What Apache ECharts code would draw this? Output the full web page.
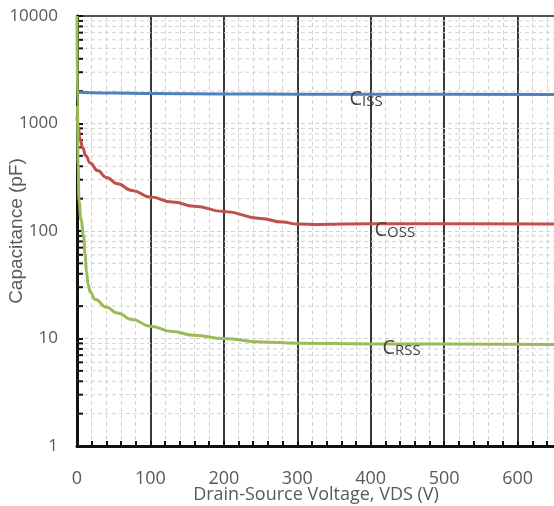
<!DOCTYPE html>
<html><head><meta charset="utf-8">
<script src="https://cdn.jsdelivr.net/npm/echarts@6/dist/echarts.min.js"></script>
<style>html,body{margin:0;padding:0;background:#fff}#c{width:554px;height:506px}</style>
</head><body><div id="c"></div>
<script>
// ---- data ----
const xTickValues = [0, 100, 200, 300, 400, 500, 600];
const yTickValues = [1, 10, 100, 1000, 10000];
const yMinorValues = [2,3,4,5,6,7,8,9,20,30,40,50,60,70,80,90,200,300,400,500,600,700,800,900,2000,3000,4000,5000,6000,7000,8000,9000];
const cissData = [[0,1950],[20,1930],[50,1920],[100,1900],[200,1885],[300,1875],[400,1870],[500,1870],[650,1865]];
const cossData = [[0,1150],[2,900],[4,720],[8,590],[12,500],[18,430],[28,365],[40,315],[55,275],[75,238],[100,207],[130,186],[160,170],[200,152],[250,131],[280,121],[300,116],[330,115],[400,117],[500,117],[650,116]];
const crssData = [[0,10000],[0.6,1500],[1.5,420],[2.7,190],[5.4,128],[9,90],[11,60],[13,42],[15,32],[18,27],[25,23],[40,19.5],[55,17.3],[75,15],[100,13],[130,11.6],[160,10.7],[200,10],[250,9.3],[300,9.05],[400,8.9],[500,8.9],[650,8.8]];
const curveLabels = [
  {name:'Ciss', big:'C', small:'ISS', at:[371,1760]},
  {name:'Coss', big:'C', small:'OSS', at:[405,106]},
  {name:'Crss', big:'C', small:'RSS', at:[416,8.5]}
];

const labelFont = '"Open Sans", sans-serif';
const gridDash = '#d4d2cc';

function markLabel(i){
  const L = curveLabels[i];
  return {
    symbol:'circle', symbolSize:0, silent:true,
    data:[{coord:L.at, value:0}],
    label:{show:true, position:'right', distance:0,
      formatter:'{a|'+L.big+'}{b|'+L.small+'}',
      rich:{a:{fontSize:20, color:'#404040', fontFamily:labelFont, verticalAlign:'bottom', lineHeight:24},
            b:{fontSize:15, color:'#404040', fontFamily:labelFont, verticalAlign:'bottom', lineHeight:20}}}
  };
}

const chart = echarts.init(document.getElementById('c'), null, {renderer:'canvas'});
chart.setOption({
  animation:false,
  backgroundColor:'#fff',
  grid:{left:77, top:16, right:-37, bottom:60, containLabel:false, outerBoundsMode:'none'},
  xAxis:[{
    type:'value', min:0, max:700, interval:100,
    axisLine:{show:true, onZero:false, lineStyle:{color:'#111', width:3}},
    axisTick:{show:true, inside:true, length:5, lineStyle:{color:'#111', width:2}},
    minorTick:{show:true, splitNumber:5, length:5, lineStyle:{color:'#111', width:2}},
    splitLine:{show:true, lineStyle:{color:'#383838', width:2}},
    minorSplitLine:{show:true, lineStyle:{color:gridDash, type:[4,3], width:1}},
    axisLabel:{margin:24, fontSize:18, color:'#595959', fontFamily:labelFont,
      formatter:function(v){return xTickValues.indexOf(v)>=0 ? String(v) : '';}},
    name:'Drain-Source Voltage, VDS (V)', nameLocation:'middle', nameGap:40, nameMoveOverlap:false,
    nameTextStyle:{fontSize:18, color:'#595959', fontFamily:labelFont, padding:[0,36,0,0]}
  },{
    type:'value', position:'top', min:0, max:700,
    axisLine:{show:true, lineStyle:{color:'#555', width:2}},
    axisTick:{show:false}, axisLabel:{show:false}, splitLine:{show:false}
  }],
  yAxis:{
    type:'log', logBase:10, min:1, max:10000,
    axisLine:{show:true, lineStyle:{color:'#111', width:3}},
    axisTick:{show:true, inside:true, length:6, lineStyle:{color:'#111', width:2}},
    splitLine:{show:true, lineStyle:{color:gridDash, type:[4,3], width:1}},
    axisLabel:{margin:19, fontSize:17, color:'#595959', fontFamily:labelFont,
      formatter:function(v){return yTickValues.indexOf(v)>=0 ? String(v) : '';}},
    name:'Capacitance (pF)', nameLocation:'middle', nameGap:51, nameMoveOverlap:false,
    nameTextStyle:{fontSize:19, color:'#595959', fontFamily:'"Liberation Sans", Arial, sans-serif'}
  },
  series:[
    {
      type:'custom', z:1, silent:true,
      data:yMinorValues.map(v=>[0,v]),
      renderItem:function(params, api){
        const v = api.value(1);
        const a = api.coord([0, v]);
        const b = api.coord([700, v]);
        return {type:'group', children:[
          {type:'line', shape:{x1:a[0], y1:a[1], x2:b[0], y2:b[1]}, style:{stroke:gridDash, lineDash:[4,3], lineWidth:1}},
          {type:'line', shape:{x1:a[0], y1:a[1], x2:a[0]+6, y2:a[1]}, style:{stroke:'#111', lineWidth:2}}
        ]};
      }
    },
    {name:'Ciss', type:'line', z:3, data:cissData, showSymbol:false, smooth:0.5, smoothMonotone:'x',
     lineStyle:{color:'#4f81bd', width:3}, itemStyle:{color:'#4f81bd'}, markPoint:markLabel(0)},
    {name:'Coss', type:'line', z:3, data:cossData, showSymbol:false, smooth:0.5, smoothMonotone:'x',
     lineStyle:{color:'#c0504d', width:3}, itemStyle:{color:'#c0504d'}, markPoint:markLabel(1)},
    {name:'Crss', type:'line', z:3, data:crssData, showSymbol:false, smooth:0.5, smoothMonotone:'x',
     lineStyle:{color:'#9bbb59', width:3}, itemStyle:{color:'#9bbb59'}, markPoint:markLabel(2)}
  ]
});
</script>
</body></html>
